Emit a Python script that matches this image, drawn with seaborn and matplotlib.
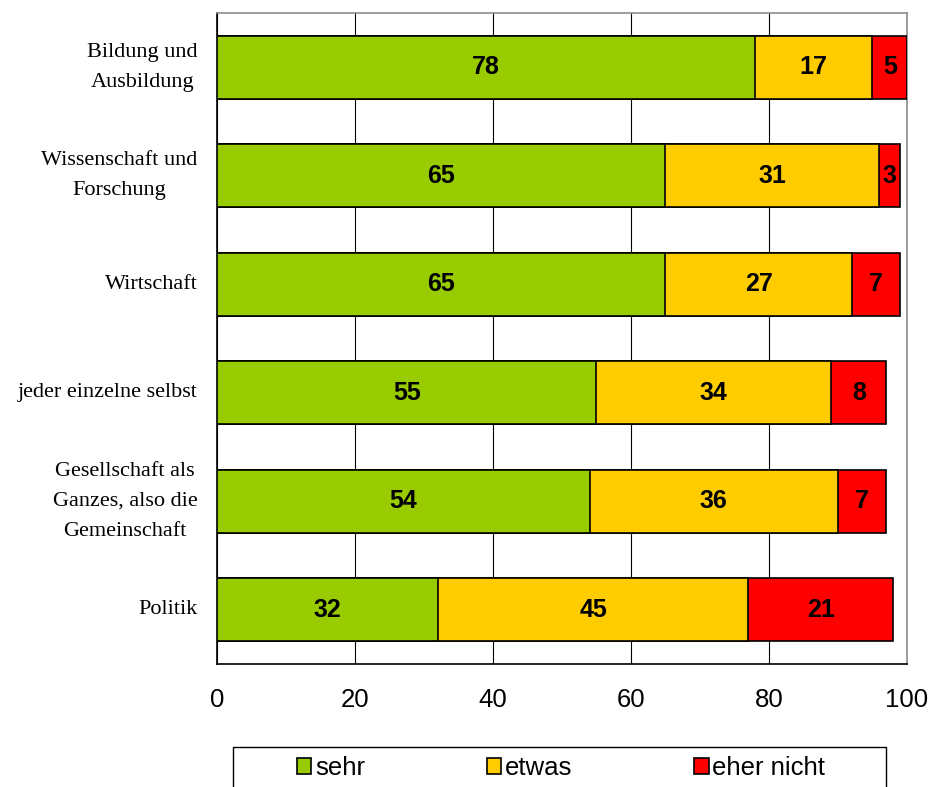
import matplotlib
matplotlib.use("Agg")
import matplotlib.pyplot as plt
import matplotlib.patches as mpatches
import seaborn as sns
import pandas as pd
import numpy as np

categories = [
    "Bildung und\nAusbildung",
    "Wissenschaft und\nForschung",
    "Wirtschaft",
    "jeder einzelne selbst",
    "Gesellschaft als\nGanzes, also die\nGemeinschaft",
    "Politik",
]
sehr = [78, 65, 65, 55, 54, 32]
etwas = [17, 31, 27, 34, 36, 45]
eher_nicht = [5, 3, 7, 8, 7, 21]
series_names = ["sehr", "etwas", "eher nicht"]
x_ticks = [0, 20, 40, 60, 80, 100]

colors = ["#99CC00", "#FFCC00", "#FF0000"]

sns.set_theme(style="white")
plt.rcParams["font.family"] = ["Liberation Sans", "DejaVu Sans"]
plt.rcParams["text.color"] = "black"
plt.rcParams["xtick.color"] = "black"
plt.rcParams["ytick.color"] = "black"
plt.rcParams["xtick.labelcolor"] = "black"
plt.rcParams["ytick.labelcolor"] = "black"

df = pd.DataFrame({"cat": categories, "sehr": sehr, "etwas": etwas, "eher nicht": eher_nicht})
df["c1"] = df["sehr"]
df["c2"] = df["sehr"] + df["etwas"]
df["c3"] = df["c2"] + df["eher nicht"]

fig = plt.figure(figsize=(9.29, 7.87), dpi=100)
ax = fig.add_axes([217/929, 1-664/787, (907-217)/929, (664-13)/787])

bw = 0.585
# draw cumulative layers, widest first so borders stack as segments
sns.barplot(data=df, x="c3", y="cat", order=categories, orient="h", color=colors[2],
            width=bw, edgecolor="black", linewidth=1.2, saturation=1, ax=ax, zorder=3)
sns.barplot(data=df, x="c2", y="cat", order=categories, orient="h", color=colors[1],
            width=bw, edgecolor="black", linewidth=1.2, saturation=1, ax=ax, zorder=3)
sns.barplot(data=df, x="c1", y="cat", order=categories, orient="h", color=colors[0],
            width=bw, edgecolor="black", linewidth=1.2, saturation=1, ax=ax, zorder=3)

# value labels
for i in range(len(categories)):
    starts = [0, df["c1"][i], df["c2"][i]]
    vals = [sehr[i], etwas[i], eher_nicht[i]]
    for s, v in zip(starts, vals):
        ax.text(s + v / 2, i, str(v), ha="center", va="center", fontsize=18,
                fontweight="bold", color="black", zorder=5)

ax.set_xlim(0, 100)
ax.set_ylim(5.5, -0.5)
ax.set_xlabel("")
ax.set_ylabel("")
ax.set_xticks(x_ticks)
ax.set_xticklabels([str(t) for t in x_ticks], fontsize=18.5, color="black")
ax.set_yticks(range(len(categories)))
ax.set_yticklabels(categories, fontsize=16, family=["Liberation Serif", "DejaVu Serif"],
                   multialignment="center", linespacing=1.8, color="black", va="center")
ax.set_yticks(np.arange(-0.5, len(categories), 1.0), minor=True)
ax.tick_params(axis="y", which="major", length=0, pad=14)
ax.tick_params(axis="y", which="minor", length=6, width=1, color="black", direction="out")
ax.tick_params(axis="x", which="major", length=5.5, width=1, color="black", direction="out", pad=12)

ax.xaxis.grid(True, color="black", linewidth=0.8, zorder=0)
ax.yaxis.grid(False)
ax.set_axisbelow(True)

for side in ["left", "bottom"]:
    ax.spines[side].set_color("black")
    ax.spines[side].set_linewidth(1.2)
for side in ["top", "right"]:
    ax.spines[side].set_color("#8c8c8c")
    ax.spines[side].set_linewidth(1.2)

handles = [mpatches.Patch(facecolor=c, edgecolor="black", linewidth=1.2) for c in colors]
leg = fig.legend(handles, series_names, loc="center left",
                 bbox_to_anchor=(297/929, 1-768/787), bbox_transform=fig.transFigure,
                 ncol=3, frameon=False, fontsize=18.5, borderpad=0, borderaxespad=0,
                 handlelength=0.55, handleheight=0.6, handletextpad=0.15, columnspacing=4.75)
for t in leg.get_texts():
    t.set_color("black")

frame = mpatches.Rectangle((233/929, -0.05), (886-233)/929, 0.05 + (1-747/787),
                           transform=fig.transFigure, fill=False, edgecolor="black",
                           linewidth=1.0, clip_on=False)
fig.add_artist(frame)

fig.savefig("out.png", dpi=100)
